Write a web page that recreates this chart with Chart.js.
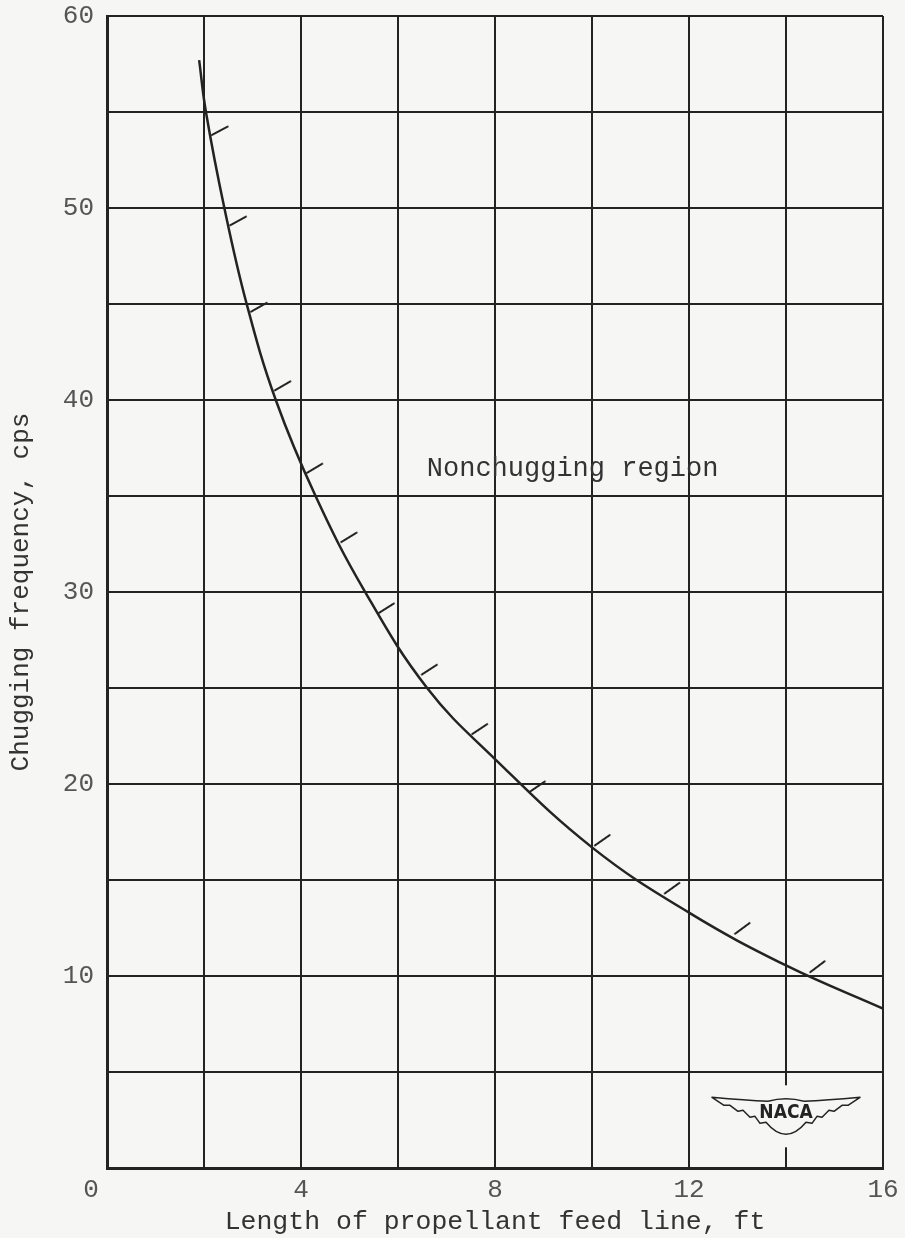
<!DOCTYPE html>
<html>
<head>
<meta charset="utf-8">
<script src="https://cdn.jsdelivr.net/npm/chart.js@4.4.1/dist/chart.umd.min.js"></script>
<style>
  html, body { margin: 0; padding: 0; background: #f6f6f5; }
  #wrap { width: 905px; height: 1238px; }
</style>
</head>
<body>
<div id="wrap"><canvas id="chart" width="905" height="1238"></canvas></div>
<script>
// boundary curve (ft, cps)
const curveLength = [1.9, 2.04, 2.42, 2.88, 3.48, 4.3, 5.3, 6.6, 8.0, 10.0, 12.0, 14.0, 16.0];
const curveFreq = [57.7, 55, 50, 45, 40, 35, 30.1, 25, 21.3, 16.7, 13.3, 10.55, 8.3];

// hatch marks on the nonchugging side of the curve
const hatchLength = [2.16, 2.54, 2.97, 3.46, 4.12, 4.83, 5.6, 6.49, 7.53, 8.72, 10.06, 11.5, 12.95, 14.5];
const hatchFreq = [53.8, 49.1, 44.6, 40.5, 36.2, 32.6, 28.9, 25.7, 22.6, 19.6, 16.8, 14.3, 12.2, 10.2];

const xTicks = [4, 8, 12, 16];
const yTicks = [10, 20, 30, 40, 50, 60];

const BG = '#f6f6f5';
const INK = '#232323';
const FONT = "'Liberation Mono', 'DejaVu Sans Mono', monospace";

// little stroke used as point style for the hatches
function makeHatch() {
    const c = document.createElement('canvas');
    c.width = 38;
    c.height = 38;
    const g = c.getContext('2d');
    g.strokeStyle = INK;
    g.lineWidth = 2;
    g.lineCap = 'round';
    g.beginPath();
    g.moveTo(19, 19);
    g.lineTo(37, 19);
    g.stroke();
    return c;
}

const decor = {
    id: 'decor',
    afterDraw(chart) {
        const ctx = chart.ctx;
        const x = chart.scales.x;
        const y = chart.scales.y;
        ctx.save();

        // origin label sits left of the corner
        ctx.fillStyle = '#555';
        ctx.font = '26px ' + FONT;
        ctx.textAlign = 'center';
        ctx.textBaseline = 'middle';
        ctx.fillText('0', x.getPixelForValue(0) - 16, chart.chartArea.bottom + 22);

        // region label
        ctx.fillStyle = '#333';
        ctx.font = '27px ' + FONT;
        ctx.fillText('Nonchugging region', x.getPixelForValue(9.6), y.getPixelForValue(36.4));

        // NACA emblem
        const cx = x.getPixelForValue(14);
        const cy = y.getPixelForValue(2.9);
        ctx.fillStyle = BG;
        ctx.fillRect(cx - 6, cy - 27, 12, 62);
        ctx.strokeStyle = INK;
        ctx.lineWidth = 1.5;
        ctx.lineJoin = 'round';
        [-1, 1].forEach(s => {
            ctx.beginPath();
            ctx.moveTo(cx + s * 18, cy - 11);
            ctx.quadraticCurveTo(cx + s * 40, cy - 12, cx + s * 74, cy - 15);
            ctx.lineTo(cx + s * 62, cy - 7);
            ctx.lineTo(cx + s * 56, cy - 7);
            ctx.lineTo(cx + s * 48, cy - 1);
            ctx.lineTo(cx + s * 43, cy - 2);
            ctx.lineTo(cx + s * 36, cy + 5);
            ctx.lineTo(cx + s * 31, cy + 4);
            ctx.lineTo(cx + s * 26, cy + 11);
            ctx.lineTo(cx + s * 20, cy + 10);
            ctx.quadraticCurveTo(cx + s * 10, cy + 22, cx, cy + 22);
            ctx.stroke();
        });
        ctx.beginPath();
        ctx.moveTo(cx - 18, cy - 11);
        ctx.quadraticCurveTo(cx, cy - 16, cx + 18, cy - 11);
        ctx.stroke();
        ctx.fillStyle = INK;
        ctx.font = 'bold 19px "DejaVu Sans Condensed", "Liberation Sans Narrow", sans-serif';
        ctx.fillText('NACA', cx, cy + 1);
        ctx.restore();
    }
};

new Chart(document.getElementById('chart'), {
    type: 'scatter',
    data: {
        datasets: [{
            label: 'Chugging boundary',
            data: curveLength.map((v, i) => ({ x: v, y: curveFreq[i] })),
            showLine: true,
            borderColor: INK,
            borderWidth: 2.5,
            pointRadius: 0,
            tension: 0.4
        }, {
            label: 'Hatching',
            data: hatchLength.map((v, i) => ({ x: v, y: hatchFreq[i] })),
            showLine: false,
            pointStyle: makeHatch(),
            pointRotation: c => -(28 + c.dataIndex * 0.7),
            pointRadius: 10
        }]
    },
    options: {
        responsive: false,
        animation: false,
        events: [],
        layout: { padding: { top: 16, right: 22, left: 0, bottom: 0 } },
        plugins: {
            legend: { display: false },
            tooltip: { enabled: false }
        },
        scales: {
            x: {
                type: 'linear',
                min: 0,
                max: 16,
                afterFit: s => {
                    s.height = 70;
                    s.paddingLeft = 0;
                    s.paddingRight = 0;
                },
                ticks: {
                    stepSize: 2,
                    padding: 7,
                    color: '#555',
                    font: { family: FONT, size: 26 },
                    maxRotation: 0,
                    autoSkip: false,
                    callback: v => xTicks.includes(v) ? v : ''
                },
                grid: { color: INK, lineWidth: 2, drawTicks: false },
                border: { display: true, color: INK, width: 3 },
                title: {
                    display: true,
                    text: 'Length of propellant feed line, ft',
                    color: '#333',
                    font: { family: FONT, size: 26.5 },
                    padding: { top: 0, bottom: 0 }
                }
            },
            y: {
                type: 'linear',
                min: 0,
                max: 60,
                afterFit: s => {
                    s.width = 107;
                    s.paddingTop = 0;
                    s.paddingBottom = 0;
                },
                ticks: {
                    stepSize: 5,
                    padding: 13,
                    color: '#555',
                    font: { family: FONT, size: 26 },
                    autoSkip: false,
                    callback: v => yTicks.includes(v) ? v : ''
                },
                grid: { color: INK, lineWidth: 2, drawTicks: false },
                border: { display: true, color: INK, width: 3 },
                title: {
                    display: true,
                    text: 'Chugging frequency, cps',
                    color: '#333',
                    font: { family: FONT, size: 26 },
                    padding: { top: 6, bottom: 0 }
                }
            }
        }
    },
    plugins: [decor]
});
</script>
</body>
</html>
